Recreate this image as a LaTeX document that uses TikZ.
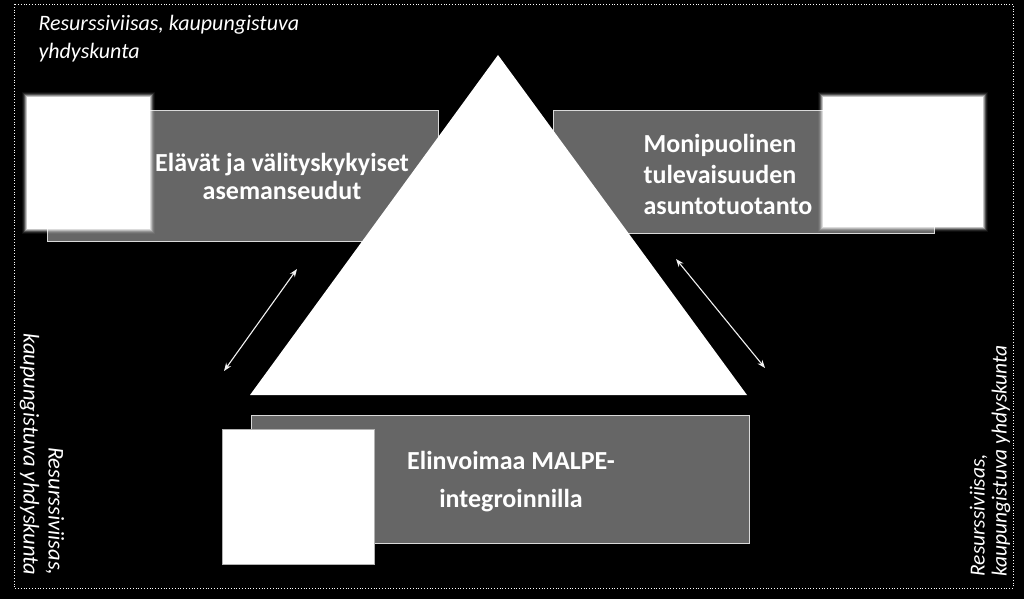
\documentclass[tikz,border=0pt]{standalone}
\usepackage{fontspec}
\setmainfont{Carlito}
\usetikzlibrary{positioning}
\usetikzlibrary{arrows.meta}

\begin{document}
\begin{tikzpicture}[
	x=1pt, y=-1pt,
	font=\fontsize{20}{28}\selectfont
]
\tikzset{
    graybox/.style = {rectangle, draw=black!15, line width=0.8pt, fill=black!60, anchor=north west, inner sep=0pt},
    whitesq/.style = {rectangle, fill=white, anchor=north west, inner sep=0pt},
    boxtext/.style = {text=white, align=center, font=\bfseries\fontsize{26}{28}\selectfont},
    sidetext/.style = {text=white, font=\itshape\fontsize{22.5}{25}\selectfont},
    twoway/.style = {<->, >={Stealth[length=8pt,width=6pt]}, draw=black!5, line width=1.1pt}
}
\fill[black] (0,0) rectangle (1024,599);
\useasboundingbox (0,0) rectangle (1024,599);
\draw[white, dotted, line width=0.8pt] (14,4) rectangle (1013,588);
% boxes
\node[graybox, minimum width=391pt, minimum height=131pt] (stations) at (47,110) {};
\node[graybox, minimum width=381pt, minimum height=123pt] (housing) at (553,110) {};
\node[graybox, minimum width=498pt, minimum height=128pt] (malpe) at (251,415) {};
\node[whitesq, minimum width=123pt, minimum height=132pt] (picL) at (27,97) {};
\node[whitesq, minimum width=160pt, minimum height=130pt] (picR) at (823,97) {};
\node[whitesq, draw=black!30, line width=0.6pt, minimum width=152pt, minimum height=135pt] (picB) at (222,429) {};
\foreach \pic in {picL,picR} {
    \foreach \g/\op in {1/0.5,2/0.35,3/0.2,4/0.1,5/0.05} {
        \fill[white, opacity=\op] ([shift={(-\g,-\g)}]\pic.north west) rectangle ([shift={(\g,\g)}]\pic.south east);
    }
}
% triangle
\coordinate (top) at (498,55);
\coordinate (baseL) at (250,395);
\coordinate (baseR) at (747,395);
\fill[white] (top) -- (baseL) -- (baseR) -- cycle;
% texts
\node[boxtext] (stationsT) at (282,176) {Elävät ja välityskykyiset\\asemanseudut};
\node[boxtext, align=left, anchor=west, font=\bfseries\fontsize{26}{31}\selectfont] (housingT) at (640,174) {Monipuolinen\\tulevaisuuden\\asuntotuotanto};
\node[boxtext, font=\bfseries\fontsize{26}{38}\selectfont] (malpeT) at (511,482) {Elinvoimaa MALPE-\\integroinnilla};
\node[sidetext, align=left, anchor=west, font=\itshape\fontsize{22}{28}\selectfont] (topT) at (35,39) {Resurssiviisas, kaupungistuva\\yhdyskunta};
\node[sidetext, align=right, anchor=east, rotate=-90] (leftT) at (42,579) {Resurssiviisas,\\kaupungistuva yhdyskunta};
\node[sidetext, align=left, anchor=west, rotate=90, font=\itshape\fontsize{21.5}{22}\selectfont] (rightT) at (990,580) {Resurssiviisas,\\kaupungistuva yhdyskunta};
% arrows
\coordinate (la1) at (297,269);
\coordinate (la2) at (224,371);
\coordinate (ra1) at (676,259);
\coordinate (ra2) at (765,368);
\draw[twoway] (la1) -- (la2);
\draw[twoway] (ra1) -- (ra2);
\end{tikzpicture}
\end{document}
